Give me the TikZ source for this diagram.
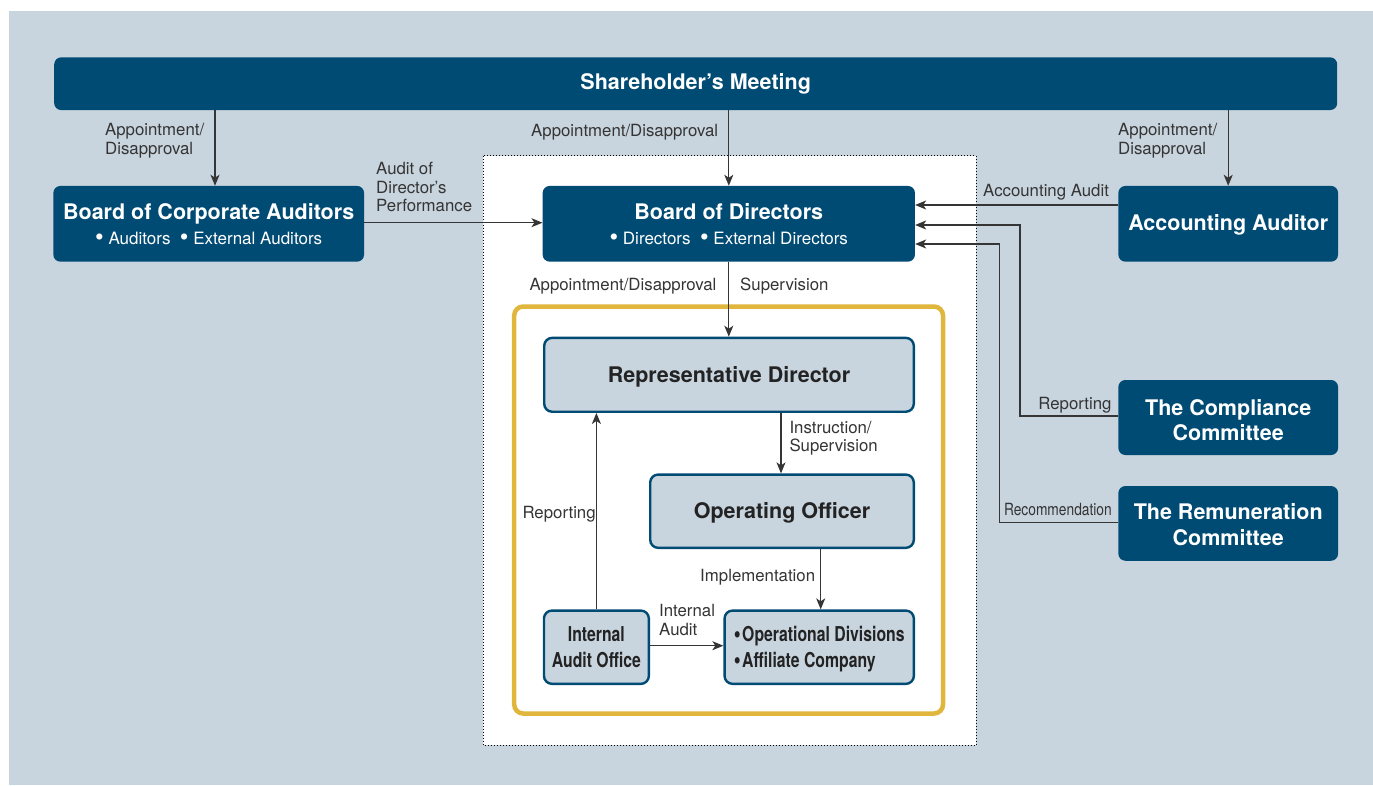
\documentclass[tikz,border=0pt]{standalone}
\usepackage{fontspec}
\setmainfont{TeX Gyre Heros}
\newfontfamily\narrowfont{TeX Gyre Heros}[FakeStretch=0.77]
\newfontfamily\narrowlblfont{TeX Gyre Heros}[FakeStretch=0.82]
\usetikzlibrary{arrows.meta}

\definecolor{navy}{HTML}{004B74}
\definecolor{panel}{HTML}{C8D4DE}
\definecolor{gold}{HTML}{E0B63C}
\definecolor{ink}{HTML}{353535}
\definecolor{boxtext}{HTML}{232323}

\newcommand\lblfont{\fontsize{16.8}{18.4}\selectfont}
\newcommand\ttlfont{\fontsize{21.5}{24.7}\selectfont\bfseries}
\newcommand\subfnt{\fontsize{17}{24.7}\selectfont\mdseries}
\newcommand\cmtfont{\fontsize{21.5}{25.5}\selectfont\bfseries}
\newcommand\narrowttl{\narrowfont\fontsize{20.5}{26}\selectfont\bfseries}
% larger bullets, as used in the box captions
\newcommand\bigbul{\smash{\raisebox{-0.07em}{\scalebox{1.45}{\textbullet}}}}
\newcommand\listbul{\smash{\raisebox{-0.04em}{\scalebox{1.25}{\textbullet}}}}

\begin{document}
\begin{tikzpicture}[x=1pt,y=-1pt,
  darkbox/.style={fill=navy, rounded corners=7pt, text=white, align=center,
    inner sep=0pt, font=\ttlfont},
  lightbox/.style={fill=panel, draw=navy, line width=2.4pt, rounded corners=8pt,
    text=boxtext, align=center, inner sep=0pt, font=\ttlfont},
  conn/.style={draw=ink, line width=1.1pt,
    -{Stealth[length=11pt,width=9pt,inset=3pt]}},
  lbl/.style={text=ink, font=\lblfont, inner sep=0pt, align=left, anchor=base west},
]
% canvas
\fill[white] (0,0) rectangle (1373,785);
\fill[panel] (9,11) rectangle (1373,785);

% executive area and the gold frame around execution
\draw[fill=white, line width=0.9pt, dash pattern=on 0.9pt off 2.1pt] (483,155.5) rectangle (976,745);
\draw[gold, line width=4.5pt, rounded corners=9pt] (514.2,306.5) rectangle (943,713.5);

% top level bodies
\node[darkbox, minimum width=1283pt, minimum height=52.7pt] (sh) at (695.7,83.7) {Shareholder’s Meeting};
\node[darkbox, minimum width=310.7pt, minimum height=75.7pt] (bca) at (208.7,223.8)
  {Board of Corporate Auditors\\{\subfnt \bigbul\ Auditors\hspace{0.55em}\bigbul\ External Auditors}};
\node[darkbox, minimum width=372.3pt, minimum height=75.7pt] (bod) at (728.8,223.8)
  {Board of Directors\\{\subfnt \bigbul\ Directors\hspace{0.55em}\bigbul\ External Directors}};
\node[darkbox, text depth=2pt, minimum width=219.7pt, minimum height=75.7pt] (aa) at (1228.2,223.8) {Accounting Auditor};
\node[darkbox, font=\cmtfont, text height=46pt, text depth=0pt, minimum width=219.7pt, minimum height=75pt] (cc) at (1228.2,417.5)
  {The Compliance\\Committee};
\node[darkbox, font=\cmtfont, text height=44pt, text depth=0pt, minimum width=219.7pt, minimum height=74.7pt] (rc) at (1228.2,523.4)
  {The Remuneration\\Committee};

% execution
\node[lightbox, text depth=0pt, minimum width=369.6pt, minimum height=73.9pt] (rd) at (729,374.8) {Representative Director};
\node[lightbox, text depth=2pt, minimum width=263.6pt, minimum height=73.3pt] (oo) at (782,511.2) {Operating Officer};
\node[lightbox, font=\narrowttl, minimum width=104.9pt, minimum height=73.3pt] (iao) at (596.4,647.2)
  {Internal\\Audit Office};
\node[lightbox, font=\narrowttl, align=left, text height=45pt, text depth=4.4pt, minimum width=189.3pt, minimum height=73.3pt] (od) at (819.2,647.2)
  {\listbul\hspace{1.5pt}Operational Divisions\\\listbul\hspace{1.5pt}Affiliate Company};

% connectors
\draw[conn] (215,0 |- sh.south) -- (215,0 |- bca.north);
\draw[conn] (sh.south -| bod.north) -- (bod.north);
\draw[conn] (sh.south -| aa.north) -- (aa.north);
\draw[conn] (bca.east |- 0,222.7) -- (bod.west |- 0,222.7);
\draw[conn] (aa.west |- 0,205) -- (bod.east |- 0,205);
\draw[conn] (cc.west |- 0,416) -| (1020,225) -- (bod.east |- 0,225);
\draw[conn] (rc.west |- 0,522.7) -| (999.3,244) -- (bod.east |- 0,244);
\draw[conn] (bod.south) -- (bod.south |- rd.north);
\draw[conn] (781,0 |- rd.south) -- (781,0 |- oo.north);
\draw[conn] (iao.north) -- (iao.north |- rd.south);
\draw[conn] (820.7,0 |- oo.south) -- (820.7,0 |- od.north);
\draw[conn] (iao.east |- 0,645.7) -- (od.west |- 0,645.7);

% connector labels (base = baseline of the last line)
\node[lbl] (l1) at (105,154) {Appointment/\\Disapproval};
\node[lbl] (l2) at (531,136) {Appointment/Disapproval};
\node[lbl] (l3) at (1118,154) {Appointment/\\Disapproval};
\node[lbl] (l4) at (376,211.7) {Audit of\\Director’s\\Performance};
\node[lbl] (l5) at (983,196.7) {Accounting Audit};
\node[lbl] (l6) at (529.3,290) {Appointment/Disapproval};
\node[lbl] (l7) at (740,290) {Supervision};
\node[lbl, anchor=base east] (l8) at (1111.7,409.3) {Reporting};
\node[lbl, anchor=base east, font=\narrowlblfont\lblfont] (l9) at (1112,515.7) {Recommendation};
\node[lbl] (l10) at (789.3,451.7) {Instruction/\\Supervision};
\node[lbl] (l11) at (522.3,518.3) {Reporting};
\node[lbl] (l12) at (700,581) {Implementation};
\node[lbl] (l13) at (659,635) {Internal\\Audit};
\end{tikzpicture}
\end{document}
